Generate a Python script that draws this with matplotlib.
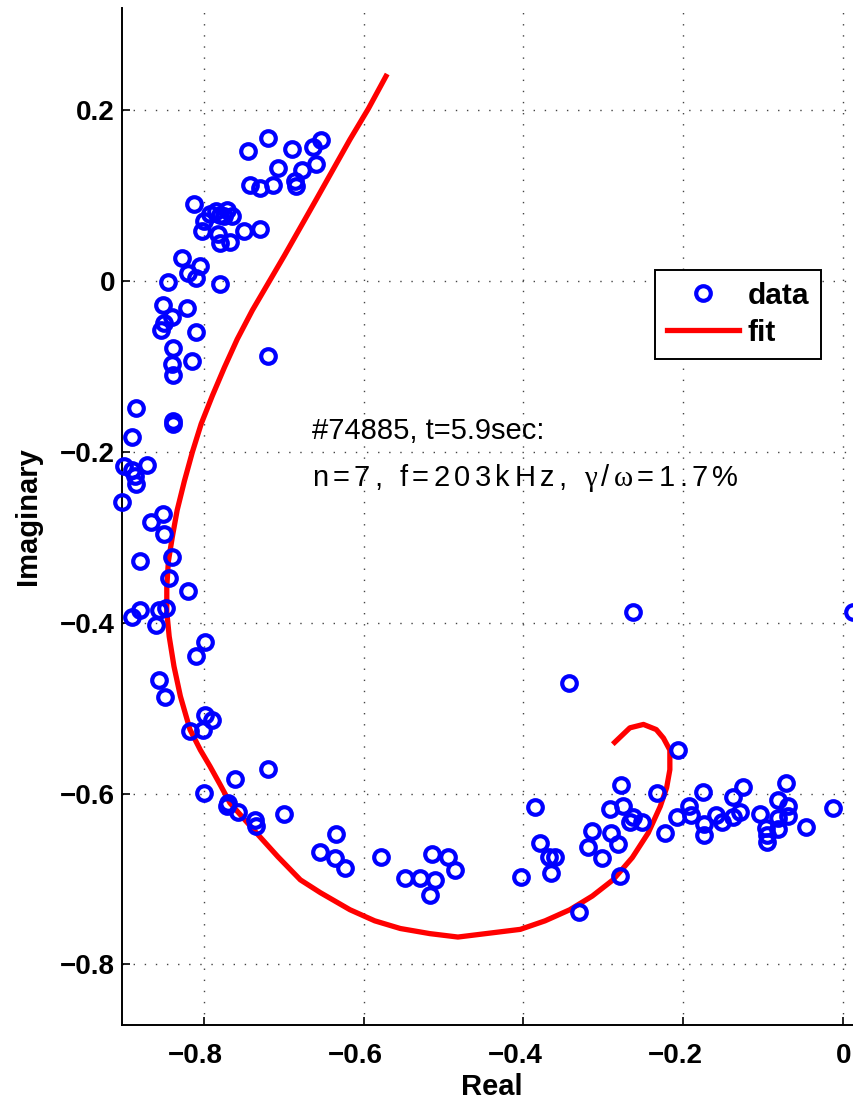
import numpy as np
import matplotlib
matplotlib.use("Agg")
import matplotlib.pyplot as plt
from matplotlib.lines import Line2D
from matplotlib import font_manager, ft2font
import matplotlib.transforms as mtransforms

plt.rcParams['font.family'] = ['Liberation Sans', 'DejaVu Sans']

# measured complex amplitudes (real / imaginary parts)
data_re = [-0.720, -0.745, -0.689, -0.663, -0.653, -0.707, -0.677, -0.659, -0.742, -0.729,
           -0.713, -0.686, -0.685, -0.812, -0.800, -0.784, -0.771, -0.765, -0.779, -0.792,
           -0.774, -0.802, -0.782, -0.779, -0.767, -0.750, -0.729, -0.827, -0.804, -0.819,
           -0.809, -0.845, -0.780, -0.851, -0.821, -0.840, -0.850, -0.853, -0.809, -0.838,
           -0.815, -0.839, -0.838, -0.720,
           -0.884, -0.838, -0.838, -0.889, -0.900, -0.890, -0.871, -0.886, -0.884, -0.902,
           -0.851, -0.866, -0.850, -0.840, -0.880, -0.843, -0.820, -0.890, -0.880, -0.856,
           -0.847, -0.859, -0.798, -0.809, -0.856, -0.848,
           -0.798, -0.790, -0.817, -0.801, -0.761, -0.720, -0.800, -0.769, -0.771, -0.757,
           -0.736, -0.734, -0.700, -0.634, -0.654, -0.636, -0.623, -0.578, -0.515, -0.548,
           -0.529, -0.511, -0.494, -0.486, -0.517,
           -0.343, -0.278, -0.386, -0.292, -0.276, -0.263, -0.252, -0.267, -0.314, -0.291,
           -0.282, -0.319, -0.302, -0.379, -0.368, -0.361, -0.366, -0.403, -0.279, -0.331,
           -0.263, 0.012,
           -0.207, -0.233, -0.223, -0.208, -0.193, -0.190, -0.175, -0.174, -0.174, -0.159,
           -0.152, -0.138, -0.126, -0.138, -0.129, -0.104, -0.097, -0.096, -0.096, -0.082,
           -0.072, -0.069, -0.082, -0.069, -0.082, -0.047, -0.013]
data_im = [0.168, 0.152, 0.155, 0.157, 0.165, 0.133, 0.130, 0.137, 0.113, 0.109,
           0.113, 0.117, 0.111, 0.090, 0.070, 0.082, 0.084, 0.076, 0.078, 0.079,
           0.076, 0.059, 0.055, 0.045, 0.046, 0.059, 0.061, 0.027, 0.018, 0.010,
           0.004, -0.001, -0.003, -0.028, -0.031, -0.042, -0.049, -0.057, -0.060, -0.078,
           -0.093, -0.097, -0.110, -0.088,
           -0.148, -0.164, -0.167, -0.182, -0.216, -0.221, -0.215, -0.228, -0.238, -0.258,
           -0.272, -0.282, -0.296, -0.323, -0.328, -0.348, -0.363, -0.393, -0.385, -0.385,
           -0.383, -0.402, -0.423, -0.439, -0.467, -0.487,
           -0.508, -0.514, -0.527, -0.525, -0.583, -0.571, -0.599, -0.611, -0.615, -0.622,
           -0.631, -0.638, -0.624, -0.647, -0.668, -0.676, -0.687, -0.674, -0.671, -0.699,
           -0.699, -0.701, -0.674, -0.690, -0.719,
           -0.470, -0.590, -0.616, -0.618, -0.615, -0.627, -0.633, -0.633, -0.644, -0.646,
           -0.659, -0.662, -0.676, -0.658, -0.674, -0.674, -0.693, -0.698, -0.696, -0.739,
           -0.387, -0.387,
           -0.549, -0.599, -0.646, -0.627, -0.615, -0.625, -0.598, -0.636, -0.648, -0.625,
           -0.633, -0.604, -0.592, -0.627, -0.621, -0.624, -0.640, -0.648, -0.657, -0.607,
           -0.588, -0.615, -0.628, -0.626, -0.642, -0.639, -0.617]

# fitted mode response
fit_re = [-0.572, -0.594, -0.617, -0.638, -0.659, -0.679, -0.699, -0.719, -0.739, -0.758,
          -0.774, -0.789, -0.803, -0.814, -0.824, -0.833, -0.839, -0.844, -0.846, -0.846,
          -0.843, -0.837, -0.829, -0.817, -0.804, -0.792, -0.779, -0.767, -0.751, -0.734,
          -0.707, -0.679, -0.654, -0.617, -0.586, -0.554, -0.517, -0.482, -0.404, -0.373,
          -0.342, -0.314, -0.288, -0.264, -0.244, -0.229, -0.221, -0.217, -0.217, -0.225,
          -0.234, -0.250, -0.267, -0.286]
fit_im = [0.240, 0.202, 0.166, 0.131, 0.096, 0.063, 0.030, -0.002, -0.034, -0.068,
          -0.101, -0.134, -0.167, -0.200, -0.234, -0.268, -0.299, -0.328, -0.358, -0.387,
          -0.416, -0.451, -0.486, -0.525, -0.549, -0.568, -0.590, -0.611, -0.628, -0.646,
          -0.674, -0.701, -0.716, -0.736, -0.749, -0.758, -0.764, -0.768, -0.759, -0.749,
          -0.736, -0.720, -0.701, -0.675, -0.646, -0.615, -0.593, -0.572, -0.549, -0.535,
          -0.525, -0.519, -0.523, -0.540]

fig = plt.figure(figsize=(8.54, 11.03), dpi=100)
ax = fig.add_axes([122 / 854, 78 / 1103, 739 / 854, 1017 / 1103])

ax.plot(data_re, data_im, 'o', color='blue', mfc='none', mec='blue', ms=10.5, mew=3.0,
        clip_on=False, zorder=3)
ax.plot(fit_re, fit_im, '-', color='red', lw=3.8, solid_joinstyle='round', zorder=2)

ax.set_xlim(-0.902, 0.022)
ax.set_ylim(-0.871, 0.32)
ax.set_xticks([-0.8, -0.6, -0.4, -0.2, 0])
ax.set_yticks([-0.8, -0.6, -0.4, -0.2, 0, 0.2])
ax.set_xticklabels(['\u22120.8', '\u22120.6', '\u22120.4', '\u22120.2', '0'])
ax.set_yticklabels(['\u22120.8', '\u22120.6', '\u22120.4', '\u22120.2', '0', '0.2'])
ax.grid(True, color='#444444', linestyle=(0, (1, 7)), linewidth=1.0)

for s in ['top', 'right']:
    ax.spines[s].set_visible(False)
for s in ['left', 'bottom']:
    ax.spines[s].set_linewidth(1.4)
ax.tick_params(direction='in', length=6, width=1.2, labelsize=20)
ax.tick_params(axis='x', pad=13)
ax.tick_params(axis='y', pad=5)
for lab in ax.get_xticklabels() + ax.get_yticklabels():
    lab.set_fontweight('bold')
# negative x labels sit a little left of their ticks
shift = mtransforms.ScaledTranslation(-8 / 100, 0, fig.dpi_scale_trans)
for lab in ax.get_xticklabels():
    if lab.get_text().startswith('\u2212'):
        lab.set_transform(lab.get_transform() + shift)

ax.set_xlabel('Real', fontsize=21, fontweight='bold')
ax.set_ylabel('Imaginary', fontsize=21, fontweight='bold')
ax.xaxis.set_label_coords(0.5, -0.047)
ax.yaxis.set_label_coords(-0.108, 0.5)

ax.text(0.2567, 0.5762, '#74885, t=5.9sec:', transform=ax.transAxes, fontsize=21,
        va='baseline', ha='left')


def glyph_advance(ch, family, size):
    path = font_manager.findfont(font_manager.FontProperties(family=family))
    f = ft2font.FT2Font(path)
    f.set_size(size, fig.dpi)
    return f.load_char(ord(ch)).linearHoriAdvance / 65536


# second annotation line, loosely spaced, greek letters in a serif face
line2 = 'n=7, f=203kHz, \u03b3/\u03c9=1.7%'
x_start, x_end, y_base, fsize = 311.7, 738.0, 1103 - 486.0, 21
fams = ['Liberation Serif' if c in '\u03b3\u03c9' else 'Liberation Sans' for c in line2]
adv = [glyph_advance(c, fm, fsize) for c, fm in zip(line2, fams)]
track = (x_end - x_start - sum(adv)) / (len(line2) - 1)
xc = x_start
for c, fm, a in zip(line2, fams, adv):
    if c != ' ':
        fig.text((xc + a / 2) / 854, y_base / 1103, c, family=fm, fontsize=fsize,
                 ha='center', va='baseline')
    xc += a + track

handles = [Line2D([], [], ls='none', marker='o', mfc='none', mec='blue', ms=10.5, mew=3.0),
           Line2D([], [], color='red', lw=3.8)]
leg = ax.legend(handles, ['data', 'fit'], loc='upper right',
                bbox_to_anchor=(821 / 854, 1 - 270 / 1103), bbox_transform=fig.transFigure,
                borderaxespad=0, prop={'weight': 'bold', 'size': 21.5}, fancybox=False,
                framealpha=1, edgecolor='black', handlelength=2.4, handletextpad=0.3,
                borderpad=0.4, labelspacing=0.3)
leg.get_frame().set_linewidth(1.4)

fig.savefig('out.png', dpi=100)
